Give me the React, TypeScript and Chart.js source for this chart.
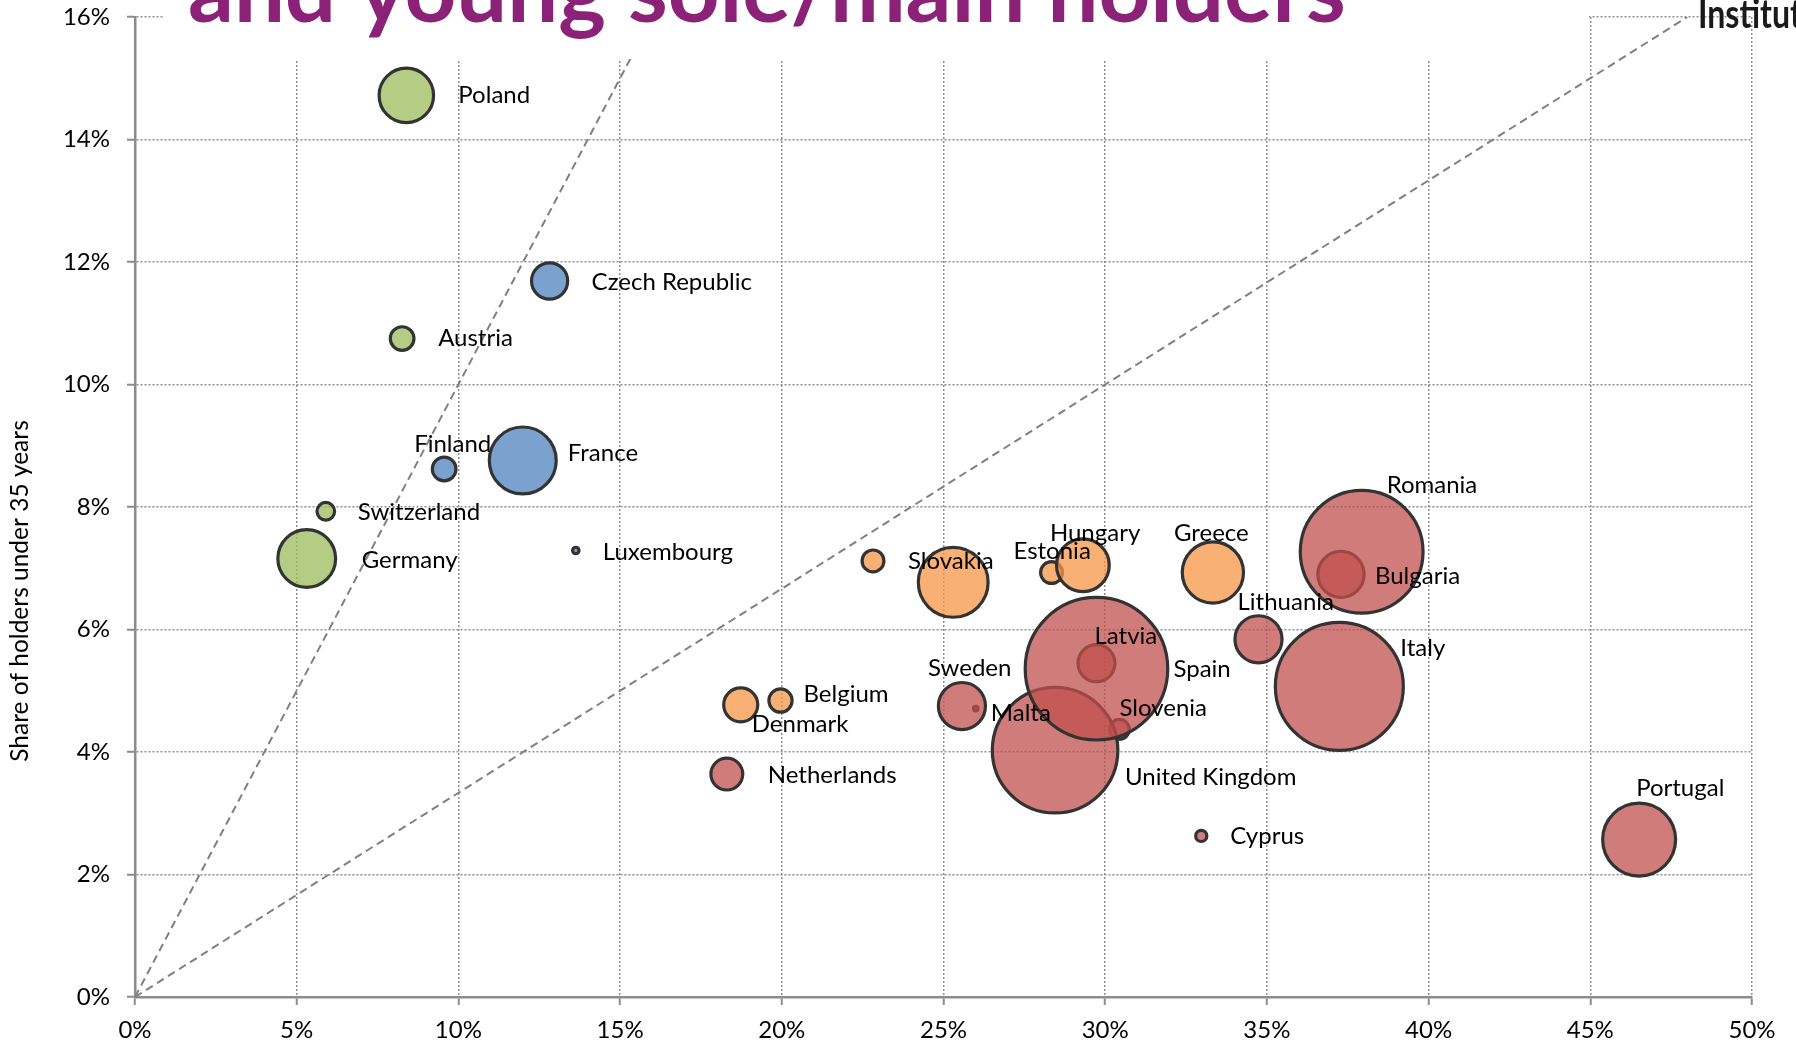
import React, { useEffect, useRef } from 'react';
import { Chart, registerables } from 'chart.js';

Chart.register(...registerables);

// ---------------- data ----------------
// drawing order matters for overlaps (later = on top)
const countries = [
  'Poland', 'Austria', 'Switzerland', 'Germany',
  'Czech Republic', 'Finland', 'France', 'Luxembourg',
  'Slovakia', '', 'Estonia', 'Hungary', 'Greece', 'Denmark', 'Belgium',
  'Netherlands', 'Malta', 'Sweden', 'Latvia', 'Slovenia', 'United Kingdom', 'Spain',
  'Lithuania', 'Bulgaria', 'Romania', 'Italy', 'Cyprus', 'Portugal',
];
// x: share of older holders (%)
const olderShare = [
  8.39, 8.26, 5.9, 5.31,
  12.82, 9.56, 11.99, 13.63,
  22.82, 25.3, 28.34, 29.31, 33.33, 18.73, 19.96,
  18.3, 26.0, 25.57, 29.73, 30.44, 28.45, 29.73,
  34.74, 37.29, 37.93, 37.24, 32.97, 46.51,
];
// y: share of holders under 35 years (%)
const youngShare = [
  14.72, 10.75, 7.93, 7.16,
  11.69, 8.62, 8.76, 7.29,
  7.12, 6.77, 6.93, 7.05, 6.93, 4.77, 4.84,
  3.64, 4.71, 4.75, 5.45, 4.37, 4.03, 5.36,
  5.84, 6.9, 7.27, 5.07, 2.63, 2.57,
];
// bubble size (relative, area-proportional)
const bubbleSize = [
  14.3, 2.7, 1.5, 16.1,
  6.3, 2.7, 21.6, 0.2,
  2.3, 23.5, 2.3, 13.4, 18.1, 5.6, 2.6,
  4.9, 0.1, 10.7, 6.6, 1.9, 76, 98,
  10.7, 10.3, 72.7, 79, 0.6, 25.7,
];
const countryGroup = [
  'green', 'green', 'green', 'green',
  'blue', 'blue', 'blue', 'blue',
  'orange', 'orange', 'orange', 'orange', 'orange', 'orange', 'orange',
  'red', 'red', 'red', 'red', 'red', 'red', 'red',
  'red', 'red', 'red', 'red', 'red', 'red',
];
const xTickValues = [0, 5, 10, 15, 20, 25, 30, 35, 40, 45, 50];
const yTickValues = [0, 2, 4, 6, 8, 10, 12, 14, 16];
// dashed guide lines (end points)
const guideEqualX = [0, 16];
const guideEqualY = [0, 16];
const guideThirdX = [0, 48];
const guideThirdY = [0, 16];

const titleText = 'and young sole/main holders';
const logoText = 'Institut';
const yAxisTitle = 'Share of holders under 35 years';

// ---------------- styles / layout ----------------
const groupOrder = ['green', 'blue', 'orange', 'red'];
const groupFill: Record<string, string> = {
  green: 'rgba(155,187,89,0.75)',
  blue: 'rgba(79,129,189,0.75)',
  orange: 'rgba(247,150,70,0.75)',
  red: 'rgba(192,80,77,0.75)',
};
const RADIUS_SCALE = 7.2;
// label placement relative to bubble centre (px): [dx, dy]
const labelOffset: (number[] | null)[] = [
  [52, 0], [36, 0], [32, 1], [55, 2],
  [42, 1], [-30, -25], [45, -7], [27, 2],
  [35, 0], null, [-38, -21], [-33, -32], [-39, -39], [11, 19], [23, -6],
  [41, 1], [15, 5], [-34, -38], [-2, -27], [0, -21], [70, 27], [77, 1],
  [-21, -37], [34, 2], [25, -66], [61, -38], [29, 0], [-3, -51],
];

const FONT = 'Lato, "Open Sans", sans-serif';

function buildDatasets() {
  const ds: any[] = [];
  groupOrder.forEach((g, gi) => {
    const idx = countries.map((_, i) => i).filter((i) => countryGroup[i] === g);
    ds.push({
      type: 'bubble',
      label: g,
      data: idx.map((i) => ({ x: olderShare[i], y: youngShare[i], r: RADIUS_SCALE * Math.sqrt(bubbleSize[i]) })),
      names: idx.map((i) => countries[i]),
      offsets: idx.map((i) => labelOffset[i]),
      backgroundColor: groupFill[g],
      borderColor: '#333333',
      borderWidth: 3.2,
      hoverRadius: 0,
      order: gi + 1,
    });
  });
  ds.push({
    type: 'line',
    data: guideEqualX.map((x, i) => ({ x, y: guideEqualY[i] })),
    borderColor: '#808080',
    borderWidth: 2,
    borderDash: [8, 5],
    pointRadius: 0,
    fill: false,
    order: 10,
  });
  ds.push({
    type: 'line',
    data: guideThirdX.map((x, i) => ({ x, y: guideThirdY[i] })),
    borderColor: '#808080',
    borderWidth: 2,
    borderDash: [8, 5],
    pointRadius: 0,
    fill: false,
    order: 11,
  });
  return ds;
}

const decorPlugin = {
  id: 'decor',
  afterDatasetsDraw(chart: any) {
    const ctx = chart.ctx;
    ctx.save();
    ctx.font = `24px ${FONT}`;
    ctx.fillStyle = '#000';
    ctx.textAlign = 'left';
    ctx.textBaseline = 'middle';
    chart.data.datasets.forEach((ds: any, di: number) => {
      if (!ds.names) return;
      const meta = chart.getDatasetMeta(di);
      meta.data.forEach((el: any, i: number) => {
        const off = ds.offsets[i];
        const name = ds.names[i];
        if (!off || !name) return;
        ctx.fillText(name, el.x + off[0], el.y + off[1]);
      });
    });
    ctx.restore();
  },
  afterDraw(chart: any) {
    const ctx = chart.ctx;
    ctx.save();
    // title box
    ctx.fillStyle = '#ffffff';
    ctx.fillRect(164, 0, 1589 - 164, 59);
    ctx.font = `bold 100px ${FONT}`;
    const w = ctx.measureText(titleText).width;
    const size = (100 * 1158) / w;
    ctx.font = `bold ${size}px ${FONT}`;
    ctx.fillStyle = '#8C2178';
    ctx.textAlign = 'left';
    ctx.textBaseline = 'alphabetic';
    ctx.fillText(titleText, 188, 22);
    // logo text
    ctx.font = `bold 40px ${FONT}`;
    const lw = ctx.measureText(logoText).width;
    ctx.fillStyle = '#1a1a1a';
    ctx.save();
    ctx.translate(1698, 28);
    ctx.scale(104 / lw, 1);
    ctx.fillText(logoText, 0, 0);
    ctx.restore();
    // y axis title
    ctx.font = `24.5px ${FONT}`;
    ctx.fillStyle = '#000';
    ctx.translate(20, 591);
    ctx.rotate(-Math.PI / 2);
    ctx.textAlign = 'center';
    ctx.textBaseline = 'middle';
    ctx.fillText(yAxisTitle, 0, 0);
    ctx.restore();
  },
};

export default function App() {
  const ref = useRef<HTMLCanvasElement>(null);
  useEffect(() => {
    document.body.style.margin = '0';
    const chart = new Chart(ref.current as HTMLCanvasElement, {
      type: 'bubble',
      data: { datasets: buildDatasets() } as any,
      options: {
        animation: false,
        responsive: false,
        devicePixelRatio: 1,
        layout: { autoPadding: false, padding: { top: 17, right: 44, left: 0, bottom: 0 } },
        plugins: { legend: { display: false }, tooltip: { enabled: false } },
        scales: {
          x: {
            type: 'linear',
            min: 0,
            max: 50,
            afterBuildTicks: (s: any) => { s.ticks = xTickValues.map((v) => ({ value: v })); },
            afterFit: (s: any) => { s.height = 48; s.paddingLeft = 0; s.paddingRight = 0; },
            ticks: {
              callback: (v: any) => `${v}%`,
              font: { family: FONT, size: 24 },
              color: '#000',
              padding: 11,
              maxRotation: 0,
              autoSkip: false,
            },
            grid: { color: '#8f8f8f', lineWidth: 1.5, tickLength: 8, tickColor: '#8c8c8c', tickWidth: 2 },
            border: { color: '#8c8c8c', width: 2.5, dash: [2, 2] },
          },
          y: {
            type: 'linear',
            min: 0,
            max: 16,
            afterBuildTicks: (s: any) => { s.ticks = yTickValues.map((v) => ({ value: v })); },
            afterFit: (s: any) => { s.width = 135; s.paddingTop = 0; s.paddingBottom = 0; },
            ticks: {
              callback: (v: any) => `${v}%`,
              font: { family: FONT, size: 24 },
              color: '#000',
              padding: 17,
              autoSkip: false,
            },
            grid: { color: '#8f8f8f', lineWidth: 1.5, tickLength: 8, tickColor: '#8c8c8c', tickWidth: 2 },
            border: { color: '#8c8c8c', width: 2.5, dash: [2, 2] },
          },
        },
      } as any,
      plugins: [decorPlugin],
    });
    return () => chart.destroy();
  }, []);
  return (
    <div style={{ position: 'absolute', left: 0, top: 0, width: 1796, height: 1045, background: '#fff', overflow: 'hidden' }}>
      <canvas ref={ref} width={1796} height={1045} style={{ display: 'block' }} />
    </div>
  );
}
